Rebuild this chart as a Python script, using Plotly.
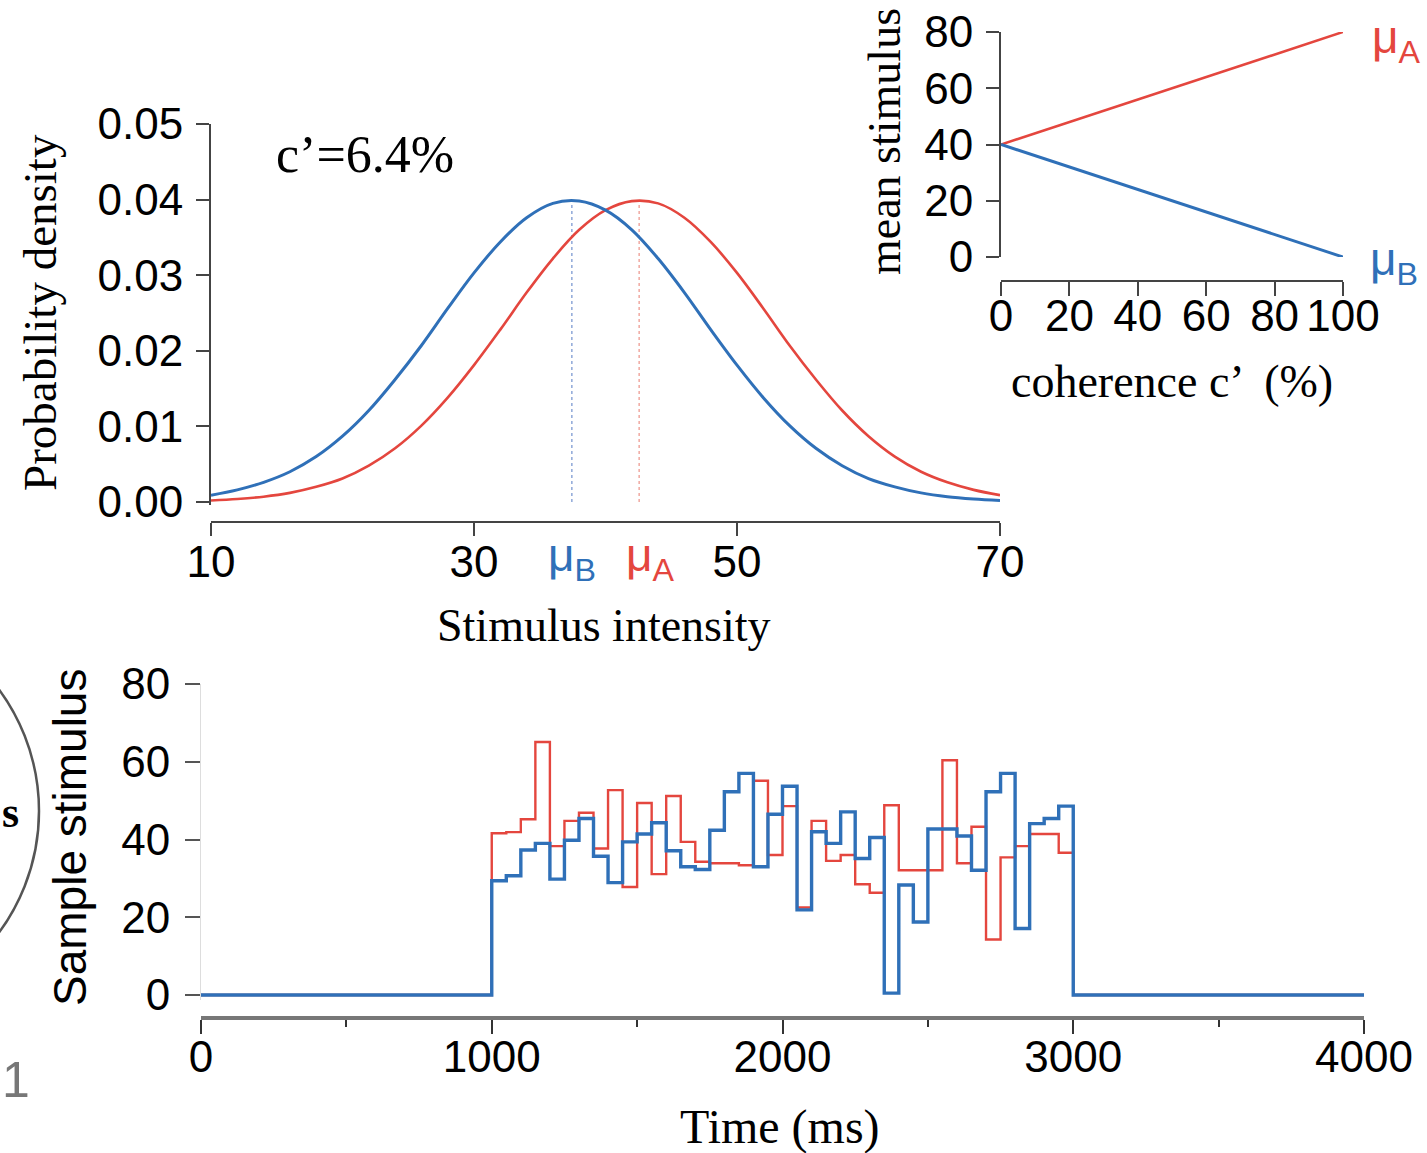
import plotly.graph_objects as go

W, H = 1427, 1153
RED = "#E4463E"
BLUE = "#2F70B8"
SANS = "Liberation Sans, Arial, sans-serif"
SERIF = "Liberation Serif, Times New Roman, serif"

# ---------------- data ----------------
# top-left: probability densities
intensity = [10, 12, 14, 16, 18, 20, 22, 24, 26, 28, 30, 32, 34, 36, 38, 40,
             42, 44, 46, 48, 50, 52, 54, 56, 58, 60, 62, 64, 66, 68, 70]
density_B = [0.0009, 0.0016, 0.0026, 0.0040, 0.0060, 0.0087, 0.0121, 0.0162,
             0.0207, 0.0256, 0.0303, 0.0344, 0.0376, 0.0395, 0.0398, 0.0386,
             0.0360, 0.0322, 0.0277, 0.0228, 0.0181, 0.0138, 0.0101, 0.0071,
             0.0048, 0.0031, 0.0020, 0.0012, 0.0007, 0.0004, 0.0002]
density_A = [0.0002, 0.0004, 0.0007, 0.0012, 0.0020, 0.0031, 0.0048, 0.0071,
             0.0101, 0.0138, 0.0181, 0.0228, 0.0277, 0.0322, 0.0360, 0.0386,
             0.0398, 0.0395, 0.0376, 0.0344, 0.0303, 0.0256, 0.0207, 0.0162,
             0.0121, 0.0087, 0.0060, 0.0040, 0.0026, 0.0016, 0.0009]
mu_B, mu_A = 37.44, 42.56
peak_density = 0.0399
coherence_label = "c’=6.4%"

# top-right inset: mean stimulus vs coherence
coherence = [0, 100]
mean_A = [40, 80]
mean_B = [40, 0]

# bottom: sample stimulus (50 ms bins between 1000 and 3000 ms)
bin_start_ms = [1000, 1050, 1100, 1150, 1200, 1250, 1300, 1350, 1400, 1450,
                1500, 1550, 1600, 1650, 1700, 1750, 1800, 1850, 1900, 1950,
                2000, 2050, 2100, 2150, 2200, 2250, 2300, 2350, 2400, 2450,
                2500, 2550, 2600, 2650, 2700, 2750, 2800, 2850, 2900, 2950]
sample_A = [41.6, 41.9, 45.2, 65.1, 38.3, 44.8, 46.9, 37.7, 52.7, 27.8,
            49.4, 31.1, 51.2, 39.4, 34.3, 33.9, 33.9, 33.4, 55.1, 36.0,
            48.6, 22.5, 44.8, 34.5, 36.0, 28.5, 26.3, 48.8, 32.1, 32.1,
            32.1, 60.4, 33.9, 43.3, 14.3, 35.4, 38.3, 41.4, 41.4, 36.6]
sample_B = [29.4, 30.7, 37.3, 39.0, 29.8, 39.8, 45.4, 35.7, 28.9, 39.4,
            41.4, 44.3, 37.1, 33.0, 32.3, 42.4, 52.3, 57.0, 33.0, 46.5,
            53.7, 21.9, 42.0, 39.0, 47.1, 35.1, 40.5, 0.5, 28.3, 18.8,
            42.7, 42.7, 40.9, 32.1, 52.3, 57.0, 17.1, 44.1, 45.4, 48.6]
t_start, t_on, t_off, t_end = 0, 1000, 3000, 4000
baseline = 0

# ---------------- helpers ----------------
def px(x):
    return x / W

def py(y):
    return 1 - y / H

fig = go.Figure()

# ---- top-left panel ----
fig.add_trace(go.Scatter(x=[mu_B, mu_B], y=[0, peak_density], mode="lines",
                         line=dict(color="#8FA8D8", width=1.5, dash="dot"),
                         xaxis="x", yaxis="y"))
fig.add_trace(go.Scatter(x=[mu_A, mu_A], y=[0, peak_density], mode="lines",
                         line=dict(color="#F0A8A0", width=1.5, dash="dot"),
                         xaxis="x", yaxis="y"))
fig.add_trace(go.Scatter(x=intensity, y=density_A, mode="lines", line_shape="spline",
                         line=dict(color=RED, width=2.6), xaxis="x", yaxis="y"))
fig.add_trace(go.Scatter(x=intensity, y=density_B, mode="lines", line_shape="spline",
                         line=dict(color=BLUE, width=3), xaxis="x", yaxis="y"))

# ---- inset ----
fig.add_trace(go.Scatter(x=coherence, y=mean_A, mode="lines",
                         line=dict(color=RED, width=2.6), xaxis="x2", yaxis="y2"))
fig.add_trace(go.Scatter(x=coherence, y=mean_B, mode="lines",
                         line=dict(color=BLUE, width=3), xaxis="x2", yaxis="y2"))

# ---- bottom panel ----
tx = [t_start] + bin_start_ms + [t_off, t_end]
fig.add_trace(go.Scatter(x=tx, y=[baseline] + sample_A + [baseline, baseline],
                         mode="lines", line_shape="hv",
                         line=dict(color=RED, width=2.4), xaxis="x3", yaxis="y3"))
fig.add_trace(go.Scatter(x=tx, y=[baseline] + sample_B + [baseline, baseline],
                         mode="lines", line_shape="hv",
                         line=dict(color=BLUE, width=3.4), xaxis="x3", yaxis="y3"))

tickfont = dict(family=SANS, size=44, color="black")
common = dict(showgrid=False, zeroline=False, ticks="outside", tickfont=tickfont,
              automargin=False)

fig.update_layout(
    template="none",
    width=W, height=H, margin=dict(l=0, r=0, t=0, b=0, pad=0, autoexpand=False),
    paper_bgcolor="white", plot_bgcolor="white", showlegend=False,
    xaxis=dict(domain=[px(211), px(1000)], range=[10, 70], anchor="free",
               position=py(522), showline=True, linecolor="#444", linewidth=2,
               tickvals=[10, 30, 50, 70], ticklen=13, tickwidth=2, tickcolor="#444",
               ticklabelstandoff=-12, **common),
    yaxis=dict(domain=[py(505), py(124)], range=[-0.0004, 0.05], anchor="x",
               showline=True, linecolor="#444", linewidth=2,
               tickvals=[0, 0.01, 0.02, 0.03, 0.04, 0.05], tickformat=".2f",
               ticklen=13, tickwidth=2, tickcolor="#444", ticklabelstandoff=4, **common),
    xaxis2=dict(domain=[px(1001), px(1343)], range=[0, 100], anchor="free",
                position=py(281), showline=True, linecolor="#444", linewidth=2,
                tickvals=[0, 20, 40, 60, 80, 100], ticklen=14, tickwidth=2,
                tickcolor="#444", ticklabelstandoff=-18, **common),
    yaxis2=dict(domain=[py(257), py(32)], range=[0, 80], anchor="x2",
                showline=True, linecolor="#444", linewidth=2,
                tickvals=[0, 20, 40, 60, 80], ticklen=13, tickwidth=2,
                tickcolor="#444", ticklabelstandoff=4, **common),
    xaxis3=dict(domain=[px(201), px(1364)], range=[0, 4000], anchor="free",
                position=py(1018), showline=True, linecolor="#777", linewidth=4,
                tickvals=[0, 1000, 2000, 3000, 4000], ticklen=14, tickwidth=2,
                tickcolor="#333", ticklabelstandoff=-15,
                minor=dict(tickvals=[500, 1500, 2500, 3500], ticklen=7,
                           tickwidth=2, tickcolor="#333", ticks="outside"),
                **common),
    yaxis3=dict(domain=[py(999.7), py(684)], range=[-1.2, 80], anchor="x3",
                showline=True, linecolor="#dddddd", linewidth=1,
                tickvals=[0, 20, 40, 60, 80], ticklen=15, tickwidth=1.5,
                tickcolor="#555", ticklabelstandoff=6, **common),
)

ann = []

def add_text(text, x, y, size, family, color="black", angle=0, xanchor="center"):
    ann.append(dict(text=text, x=px(x), y=py(y), xref="paper", yref="paper",
                    showarrow=False, textangle=angle, xanchor=xanchor, yanchor="middle",
                    font=dict(family=family, size=size, color=color)))

add_text("Probability density", 40, 313, 47, SERIF, angle=-90)
add_text("Stimulus intensity", 604, 625, 46, SERIF)
add_text(coherence_label, 365, 155, 52, SERIF)
add_text("μ<sub>B</sub>", 572, 558, 46, SANS, color=BLUE)
add_text("μ<sub>A</sub>", 650, 558, 46, SANS, color=RED)
add_text("mean stimulus", 884, 142, 46, SERIF, angle=-90)
add_text("coherence c’  (%)", 1172, 381, 46, SERIF)
add_text("μ<sub>A</sub>", 1396, 40, 46, SANS, color=RED)
add_text("μ<sub>B</sub>", 1394, 262, 46, SANS, color=BLUE)
add_text("Sample stimulus", 70, 838, 46, SANS, angle=-90)
add_text("Time (ms)", 780, 1127, 48, SERIF)
add_text("<b>s</b>", 0, 812, 44, SERIF, xanchor="left")
add_text("1", 0, 1080, 50, SANS, color="#777", xanchor="left")

fig.update_layout(annotations=ann)

fig.add_shape(type="circle", xref="paper", yref="paper",
              x0=px(-372), x1=px(39), y0=py(1016), y1=py(606),
              line=dict(color="#555", width=2.5))

fig.write_html("out.html")
